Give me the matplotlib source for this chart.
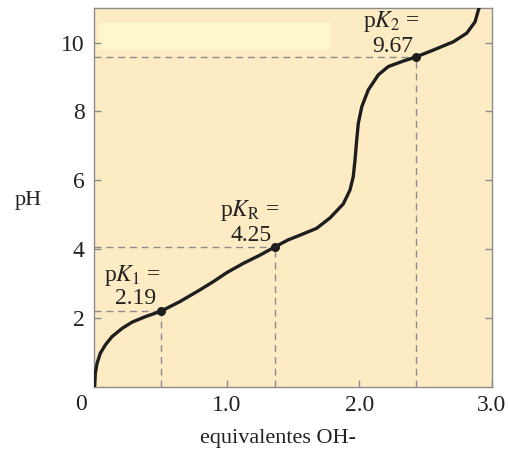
import matplotlib
matplotlib.use("Agg")
import matplotlib.pyplot as plt
from matplotlib.patches import Rectangle

# ---- data ----
equiv_oh = [0.0, 0.002, 0.006, 0.019, 0.044, 0.082, 0.132, 0.208, 0.283, 0.383,
            0.502, 0.645, 0.796, 0.897, 0.998, 1.123, 1.249, 1.362, 1.46, 1.551,
            1.677, 1.777, 1.878, 1.928, 1.953, 1.966, 1.979, 1.991, 2.017, 2.066,
            2.142, 2.217, 2.33, 2.419, 2.557, 2.708, 2.809, 2.872, 2.897, 2.909]
ph = [0.0, 0.04, 0.38, 0.67, 0.97, 1.21, 1.45, 1.69, 1.87, 2.03,
      2.19, 2.47, 2.81, 3.05, 3.31, 3.58, 3.82, 4.06, 4.26, 4.40,
      4.60, 4.90, 5.31, 5.71, 6.10, 6.58, 7.17, 7.65, 8.13, 8.62,
      9.06, 9.30, 9.46, 9.57, 9.78, 10.02, 10.27, 10.60, 10.94, 11.09]

pk_x = [0.502, 1.362, 2.43]
pk_y = [2.19, 4.06, 9.57]
pk_names = [r"p$K_1$ =", r"p$K_\mathrm{R}$ =", r"p$K_2$ ="]
pk_values = ["2.19", "4.25", "9.67"]

x_ticks = [1.0, 2.0, 3.0]
x_ticklabels = ["1.0", "2.0", "3.0"]
y_ticks = [2, 4, 6, 8, 10]

plt.rcParams["font.family"] = ["Liberation Serif", "DejaVu Serif"]
plt.rcParams["mathtext.fontset"] = "stix"

fig = plt.figure(figsize=(5.08, 4.5), dpi=100)
ax = fig.add_axes([0.186, 0.141, 0.7825, 0.841])
bg = "#fdebc4"
ax.set_facecolor(bg)
ax.set_xlim(0, 3.0)
ax.set_ylim(0, 11.0)

ax.add_patch(Rectangle((0.034, 9.78), 1.742, 0.8, facecolor="#fef6cc",
                       edgecolor="none", zorder=1))

dash_kw = dict(color="#8c8c8c", lw=1.0, dashes=(5, 3.5), zorder=2)
for xx, yy in zip(pk_x, pk_y):
    ax.plot([0, xx], [yy, yy], **dash_kw)
    ax.plot([xx, xx], [0, yy], **dash_kw)

ax.plot(equiv_oh, ph, color="#1e1e1e", lw=2.4, solid_capstyle="round",
        solid_joinstyle="round", zorder=3)
ax.plot(pk_x, pk_y, "o", color="#1e1e1e", ms=5.5, zorder=4)

fs = 16
afs = 17
label_pos = [((0.29, 3.24), (0.313, 2.57)),
             ((1.174, 5.11), (1.185, 4.40)),
             ((2.243, 10.60), (2.25, 9.88))]
for name, val, (p1, p2) in zip(pk_names, pk_values, label_pos):
    ax.text(p1[0], p1[1], name, ha="center", va="center", fontsize=afs,
            color="#222222", zorder=5)
    ax.text(p2[0], p2[1], val, ha="center", va="center", fontsize=afs,
            color="#222222", zorder=5)

ax.set_xticks(x_ticks)
ax.set_xticklabels(x_ticklabels)
ax.set_yticks(y_ticks)
ax.tick_params(direction="in", length=5, width=1, color="#8c8c8c",
               labelsize=afs, labelcolor="#222222", right=True, top=False)
ax.tick_params(axis="x", pad=6)
ax.tick_params(axis="y", pad=7)
for s in ax.spines.values():
    s.set_color("#8c8c8c")
    s.set_linewidth(1.0)

fig.text(81 / 508, 1 - 405 / 450, "0", ha="center", va="center",
         fontsize=afs, color="#222222")
fig.text(28 / 508, 1 - 200 / 450, "pH", ha="center", va="center",
         fontsize=fs, color="#222222")
fig.text(278 / 508, 1 - 438 / 450, "equivalentes OH-", ha="center",
         va="center", fontsize=fs, color="#222222")

fig.savefig("out.png", dpi=100, facecolor="white")
